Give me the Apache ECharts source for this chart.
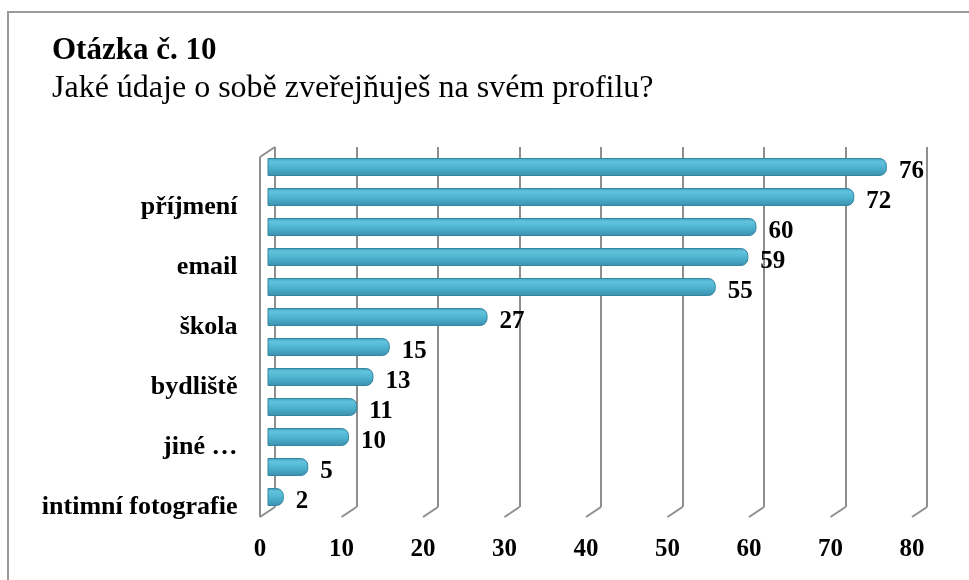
<!DOCTYPE html>
<html>
<head>
<meta charset="utf-8">
<script src="https://cdn.jsdelivr.net/npm/echarts@6/dist/echarts.min.js"></script>
<style>
  html, body { margin: 0; padding: 0; background: #fff; }
  #chart { width: 969px; height: 580px; }
</style>
</head>
<body>
<div id="chart"></div>
<script>
// data, top to bottom (only every second label is shown in the picture)
const categories = ['jméno', 'příjmení', 'věk', 'email', 'fotografie', 'škola',
  'zájmy', 'bydliště', 'telefon', 'jiné …', 'adresa', 'intimní fotografie'];
const values = [76, 72, 60, 59, 55, 27, 15, 13, 11, 10, 5, 2];
const xTicks = [0, 10, 20, 30, 40, 50, 60, 70, 80];

const chart = echarts.init(document.getElementById('chart'), null, { renderer: 'canvas' });
const font = '"Liberation Serif", "Times New Roman", serif';
const wallColor = '#8e8e8e';
const depthX = 15, depthY = 10; // offset back wall -> front plane

const plotW = 652, plotH = 360;

var option = {
  animation: false,
  backgroundColor: '#fff',
  graphic: [{
    type: 'rect',
    shape: { x: 8, y: 12, width: 1000, height: 1000 },
    style: { fill: 'none', stroke: '#9a9a9a', lineWidth: 2 }
  }],
  title: [{
    text: 'Otázka č. 10',
    left: 47, top: 30,
    textStyle: { fontFamily: font, fontSize: 31, fontWeight: 'bold', color: '#000' }
  }, {
    text: 'Jaké údaje o sobě zveřejňuješ na svém profilu?',
    left: 47, top: 68,
    textStyle: { fontFamily: font, fontSize: 32, fontWeight: 'normal', color: '#000' }
  }],
  grid: [
    // back wall
    { left: 275, top: 147, width: plotW, height: plotH },
    // bars (middle depth)
    { left: 267.5, top: 152, width: plotW, height: plotH },
    // front plane, carries the tick labels
    { left: 260, top: 157, width: plotW, height: plotH }
  ],
  xAxis: [{
    gridIndex: 0, type: 'value', min: 0, max: 80, interval: 10,
    axisLine: { show: false }, axisTick: { show: false }, axisLabel: { show: false },
    splitLine: { show: true, lineStyle: { color: wallColor, width: 2 } }
  }, {
    gridIndex: 1, type: 'value', min: 0, max: 80, interval: 10,
    axisLine: { show: false }, axisTick: { show: false }, axisLabel: { show: false },
    splitLine: { show: false }
  }, {
    gridIndex: 2, type: 'value', min: 0, max: 80, interval: 10,
    axisLine: { show: false }, axisTick: { show: false },
    splitLine: { show: false },
    axisLabel: { margin: 20, fontFamily: font, fontSize: 25, fontWeight: 'bold', color: '#000' }
  }],
  yAxis: [{
    gridIndex: 0, type: 'value', min: 0, max: 1, show: false
  }, {
    gridIndex: 1, type: 'category', data: categories, inverse: true,
    axisLine: { show: false }, axisTick: { show: false },
    axisLabel: {
      interval: function (i) { return i % 2 === 1; },
      margin: 30, verticalAlign: 'top', lineHeight: 20,
      fontFamily: font, fontSize: 26, fontWeight: 'bold', color: '#000'
    }
  }, {
    gridIndex: 2, type: 'value', min: 0, max: 1, show: false
  }],
  series: [{
    // slanted floor edges of the gridlines and the left wall
    type: 'custom',
    xAxisIndex: 0, yAxisIndex: 0,
    silent: true,
    z: 1,
    data: xTicks.map(function (v) { return [v]; }),
    encode: { x: 0 },
    renderItem: function (params, api) {
      const cs = params.coordSys;
      const v = api.value(0);
      const x = api.coord([v, 0])[0];
      const bottom = cs.y + cs.height;
      const st = { stroke: wallColor, lineWidth: 2, fill: 'none' };
      const children = [{
        type: 'line', shape: { x1: x, y1: bottom, x2: x - depthX, y2: bottom + depthY }, style: st
      }];
      if (v === 0) {
        children.push({ type: 'line', shape: { x1: x, y1: cs.y, x2: x - depthX, y2: cs.y + depthY }, style: st });
        children.push({ type: 'line', shape: { x1: x - depthX, y1: cs.y + depthY, x2: x - depthX, y2: bottom + depthY }, style: st });
      }
      return { type: 'group', children: children };
    }
  }, {
    type: 'bar',
    xAxisIndex: 1, yAxisIndex: 1,
    z: 3,
    data: values,
    barWidth: 18,
    itemStyle: {
      borderRadius: [0, 7, 7, 0],
      borderColor: '#3485a0',
      borderWidth: 1,
      color: new echarts.graphic.LinearGradient(0, 0, 0, 1, [
        { offset: 0, color: '#3f9cb8' },
        { offset: 0.2, color: '#62c3de' },
        { offset: 0.55, color: '#4db2cf' },
        { offset: 1, color: '#3a8fab' }
      ])
    },
    label: {
      show: true, position: 'right', distance: 12, offset: [0, 5],
      fontFamily: font, fontSize: 25, fontWeight: 'bold', color: '#000'
    }
  }]
};

chart.setOption(option);
window.addEventListener('resize', chart.resize);
</script>
</body>
</html>
